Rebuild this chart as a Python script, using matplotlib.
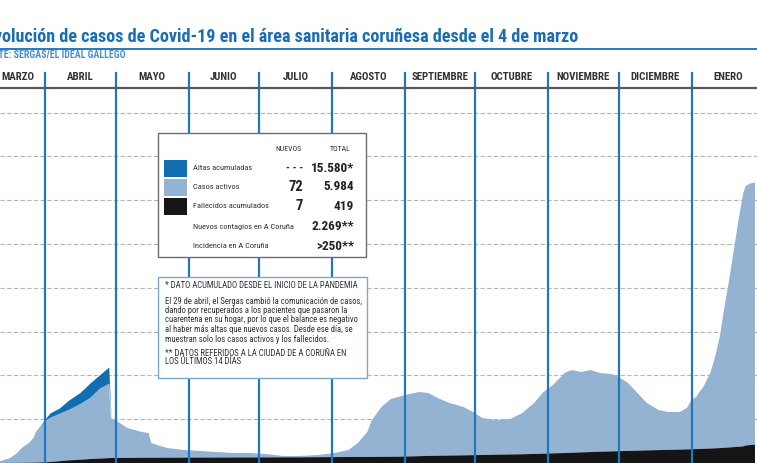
import matplotlib
matplotlib.use('Agg')
import matplotlib.pyplot as plt
import numpy as np
import pandas as pd
from matplotlib import font_manager
from matplotlib.patches import Rectangle
from matplotlib.lines import Line2D

# ---------------- data ----------------
dates = ['2020-03-04', '2020-03-13', '2020-03-17', '2020-03-20', '2020-03-22', '2020-03-25',
         '2020-03-27', '2020-03-28', '2020-03-30', '2020-04-01', '2020-04-03', '2020-04-07',
         '2020-04-11', '2020-04-16', '2020-04-20', '2020-04-24', '2020-04-28', '2020-04-29',
         '2020-05-02', '2020-05-06', '2020-05-12', '2020-05-15', '2020-05-16', '2020-05-20',
         '2020-05-23', '2020-05-30', '2020-06-06', '2020-06-13', '2020-06-20', '2020-06-27',
         '2020-07-04', '2020-07-11', '2020-07-18', '2020-07-26', '2020-08-02', '2020-08-08',
         '2020-08-12', '2020-08-16', '2020-08-18', '2020-08-22', '2020-08-26', '2020-09-01',
         '2020-09-07', '2020-09-11', '2020-09-15', '2020-09-20', '2020-09-26', '2020-09-30',
         '2020-10-04', '2020-10-10', '2020-10-16', '2020-10-21', '2020-10-26', '2020-10-30',
         '2020-11-03', '2020-11-08', '2020-11-11', '2020-11-15', '2020-11-19', '2020-11-23',
         '2020-11-28', '2020-12-01', '2020-12-05', '2020-12-09', '2020-12-13', '2020-12-18',
         '2020-12-22', '2020-12-27', '2020-12-30', '2021-01-01', '2021-01-03', '2021-01-04',
         '2021-01-06', '2021-01-09', '2021-01-11', '2021-01-13', '2021-01-15', '2021-01-17',
         '2021-01-19', '2021-01-21', '2021-01-23', '2021-01-24', '2021-01-26', '2021-01-28']

activos = [0, 44, 111, 223, 336, 449,
           561, 697, 832, 966, 1027, 1102,
           1173, 1295, 1417, 1612, 1714, 913,
           822, 682, 589, 565, 337, 267,
           220, 174, 150, 126, 102, 101,
           77, 32, 30, 50, 93, 160,
           319, 569, 842, 1137, 1318, 1405,
           1465, 1436, 1318, 1200, 1103, 985,
           844, 792, 810, 942, 1163, 1408,
           1561, 1827, 1889, 1836, 1873, 1797,
           1767, 1693, 1550, 1316, 1082, 915,
           864, 858, 945, 1124, 1189, 1278,
           1411, 1725, 2085, 2536, 3213, 3823,
           4500, 5177, 5784, 5920, 5975, 5984]

fallecidos = [0, 2, 3, 5, 6, 8,
              10, 11, 13, 16, 23, 40,
              60, 75, 90, 100, 112, 114,
              115, 117, 119, 120, 120, 121,
              122, 123, 124, 125, 126, 127,
              128, 130, 130, 133, 135, 137,
              138, 139, 140, 141, 143, 147,
              156, 162, 166, 170, 175, 179,
              183, 190, 195, 200, 207, 213,
              220, 228, 234, 242, 250, 258,
              265, 270, 276, 282, 288, 295,
              300, 306, 311, 314, 318, 320,
              324, 330, 335, 341, 348, 355,
              363, 371, 380, 400, 410, 419]

altas = [0, 0, 0, 0, 0, 0,
         0, 0, 0, 30, 92, 114,
         205, 251, 319, 297, 366, 0] + [0] * 66

months = ['MARZO', 'ABRIL', 'MAYO', 'JUNIO', 'JULIO', 'AGOSTO', 'SEPTIEMBRE',
          'OCTUBRE', 'NOVIEMBRE', 'DICIEMBRE', 'ENERO']
month_starts = ['2020-03-01', '2020-04-01', '2020-05-01', '2020-06-01', '2020-07-01',
                '2020-08-01', '2020-09-01', '2020-10-01', '2020-11-01', '2020-12-01',
                '2021-01-01', '2021-02-01']

title = 'Evolución de casos de Covid-19 en el área sanitaria coruñesa desde el 4 de marzo'
source = 'FUENTE: SERGAS/EL IDEAL GALLEGO'

legend_rows = ['Altas acumuladas', 'Casos activos', 'Fallecidos acumulados',
               'Nuevos contagios en A Coruña', 'Incidencia en A Coruña']
legend_nuevos = ['---', '72', '7', '', '']
legend_total = ['15.580*', '5.984', '419', '2.269**', '>250**']

note_lines = ['* DATO ACUMULADO DESDE EL INICIO DE LA PANDEMIA',
              'El 29 de abril, el Sergas cambió la comunicación de casos,',
              'dando por recuperados a los pacientes que pasaron la',
              'cuarentena en su hogar, por lo que el balance es negativo',
              'al haber más altas que nuevos casos. Desde ese día, se',
              'muestran solo los casos activos y los fallecidos.',
              '** DATOS REFERIDOS A LA CIUDAD DE A CORUÑA EN',
              'LOS ÚLTIMOS 14 DÍAS']

# ---------------- styles ----------------
C_LIGHT = '#94b3d3'
C_DARK = '#106fb2'
C_BLACK = '#151515'
C_SEP = '#1f78bd'
C_TITLE = '#1a6db5'
C_SOURCE = '#4a90cc'

def pick_font(names):
    for n in names:
        try:
            font_manager.findfont(font_manager.FontProperties(family=n), fallback_to_default=False)
            return n
        except Exception:
            continue
    return 'DejaVu Sans'

FONT = pick_font(['Liberation Sans Narrow', 'Roboto Condensed', 'Roboto'])
plt.rcParams['font.family'] = [FONT, 'DejaVu Sans']

W, H = 757, 463
fig = plt.figure(figsize=(W / 100, H / 100), dpi=100)
fig.patch.set_facecolor('white')
renderer = fig.canvas.get_renderer()

def fx(px):
    return px / W

def fy(py):
    return 1 - py / H

def fit_size(text, target_px, weight='normal', base=10):
    t = fig.text(0, 0, text, fontsize=base, fontweight=weight)
    w = t.get_window_extent(renderer).width
    t.remove()
    return base * target_px / w

# pixel <-> day mapping (day 0 = 2020-03-01)
PX0, PXS = -27.56, 2.35
ref = pd.Timestamp('2020-03-01')
days = np.array([(pd.Timestamp(d) - ref).days for d in dates], dtype=float)
mdays = np.array([(pd.Timestamp(d) - ref).days for d in month_starts], dtype=float)

x_left = (0 - PX0) / PXS
x_right = (W - PX0) / PXS
top_px = 88
units_per_px = 1000 / 43.8
ymax = (H - top_px) * units_per_px

ax = fig.add_axes([0, 0, 1, (H - top_px) / H])
ax.set_xlim(x_left, x_right)
ax.set_ylim(0, ymax)
ax.axis('off')

fal = np.array(fallecidos, float)
act = np.array(activos, float)
alt = np.array(altas, float)

for g in range(1000, 9000, 1000):
    ax.axhline(g, color='#b5b5b5', lw=0.8, ls=(0, (4, 2)), zorder=0)

ax.fill_between(days, 0, fal, color=C_BLACK, lw=0, zorder=2)
ax.fill_between(days, fal, fal + act, color=C_LIGHT, lw=0, zorder=1)
mask = np.zeros(len(days), bool)
mask[:18] = True
ax.fill_between(days[mask], fal[mask] + act[mask], fal[mask] + act[mask] + alt[mask],
                color=C_DARK, lw=0, zorder=1)

# month separators
sep_top = 73
for d in mdays[1:-1]:
    ax.axvline(d, ymin=0, ymax=(H - sep_top) / (H - top_px), color=C_SEP, lw=1.6,
               clip_on=False, zorder=3)

# header line
fig.add_artist(Line2D([0, 1], [fy(88), fy(88)], color='#5a5a5a', lw=1.6))
# title underline
fig.add_artist(Line2D([0, 1], [fy(49), fy(49)], color=C_TITLE, lw=1.3))

# title (cropped on the left, as in the reference)
ts = fit_size(title[2:], 578, weight='bold')
fig.text(fx(578), fy(37), title, fontsize=ts, fontweight='bold', color=C_TITLE,
         ha='right', va='center')
ss = fit_size(source[4:], 126, weight='bold')
fig.text(fx(126), fy(55), source, fontsize=ss, fontweight='bold', color=C_SOURCE,
         ha='right', va='center')

# month labels
ms = fit_size('SEPTIEMBRE', 57, weight='bold')
for i, m in enumerate(months):
    c = (mdays[i] + mdays[i + 1]) / 2
    if i == 0:
        c = (mdays[i + 1] + x_left) / 2 - 2
    px = PX0 + PXS * c
    fig.text(fx(px), fy(77), m, fontsize=ms, fontweight='bold', color='#333333',
             ha='center', va='center')

# legend box
fig.add_artist(Rectangle((fx(158), fy(257)), fx(366) - fx(158), fy(133) - fy(257),
                         transform=fig.transFigure, facecolor='white', edgecolor='#6d6d6d',
                         lw=1.0, zorder=4))
hs = fit_size('NUEVOS', 26)
fig.text(fx(289), fy(149), 'NUEVOS', fontsize=hs, color='#333333', ha='center', va='center', zorder=5)
fig.text(fx(340), fy(149), 'TOTAL', fontsize=hs, color='#333333', ha='center', va='center', zorder=5)
row_y = [168, 187, 206, 227, 246]
sw_colors = [C_DARK, C_LIGHT, C_BLACK]
ls_ = fit_size('Altas acumuladas', 59)
bs = 9.5
for i, lab in enumerate(legend_rows):
    y = row_y[i]
    if i < 3:
        fig.add_artist(Rectangle((fx(164), fy(y + 8.5)), fx(23), 17 / H,
                                 transform=fig.transFigure, facecolor=sw_colors[i],
                                 edgecolor='none', zorder=5))
    fig.text(fx(193), fy(y), lab, fontsize=ls_, color='#333333', ha='left', va='center', zorder=5)
    if legend_nuevos[i]:
        if legend_nuevos[i] == '---':
            fig.text(fx(303), fy(y), '- - -', fontsize=8, fontweight='bold', color='#333333',
                     ha='right', va='center', zorder=5)
        else:
            fig.text(fx(303), fy(y), legend_nuevos[i], fontsize=bs + 1, fontweight='bold',
                     color='#222222', ha='right', va='center', zorder=5)
    fig.text(fx(354), fy(y), legend_total[i], fontsize=bs, fontweight='bold', color='#222222',
             ha='right', va='center', zorder=5)

# note box
fig.add_artist(Rectangle((fx(158), fy(378)), fx(367) - fx(158), fy(277) - fy(378),
                         transform=fig.transFigure, facecolor='white', edgecolor='#7aa7cf',
                         lw=1.0, zorder=4))
ns = fit_size(note_lines[1], 197)
note_y = [286, 301, 310.5, 320, 330, 340, 353, 362]
for t, y in zip(note_lines, note_y):
    fig.text(fx(165), fy(y), t, fontsize=ns, color='#333333', ha='left', va='center', zorder=5)

fig.savefig('out.png', dpi=100, facecolor='white')
